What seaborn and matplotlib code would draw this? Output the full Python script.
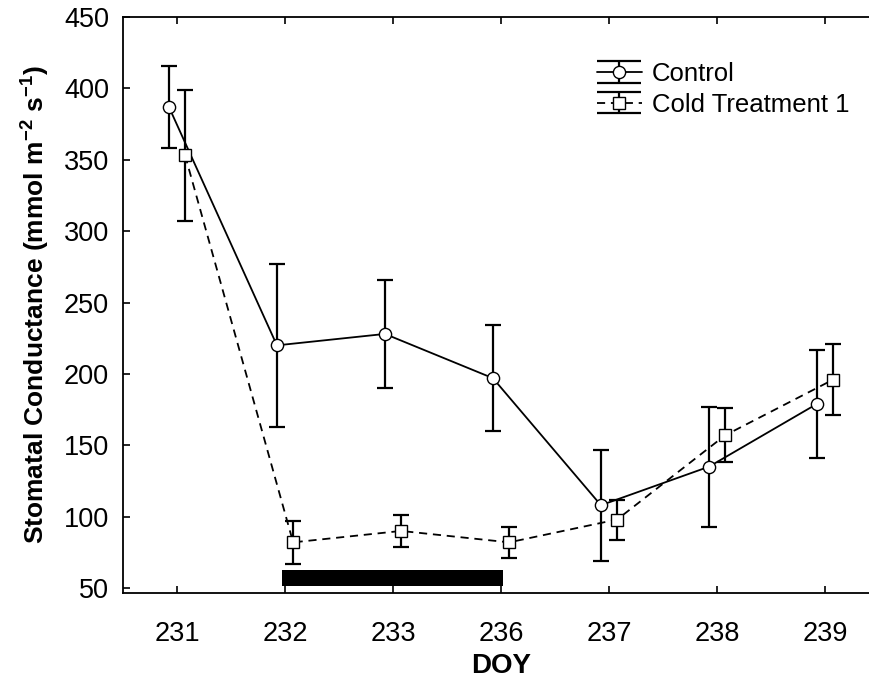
import numpy as np
import pandas as pd
import matplotlib
matplotlib.use("Agg")
import matplotlib.pyplot as plt
import seaborn as sns
from matplotlib.container import ErrorbarContainer
from matplotlib.legend_handler import HandlerErrorbar
from matplotlib.lines import Line2D

# ---- data -------------------------------------------------------------
doy_labels = ["231", "232", "233", "236", "237", "238", "239"]

control_mean = [387, 220, 228, 197, 108, 135, 179]
control_err = [29, 57, 38, 37, 39, 42, 38]

cold_mean = [353, 82, 90, 82, 98, 157, 196]
cold_err = [46, 15, 11, 11, 14, 19, 25]

# cold period marker (spans DOY 232 -> 236)
cold_period = ("232", "236")

# ---- style --------------------------------------------------------------
sns.set_theme(style="ticks")
plt.rcParams["font.family"] = ["Liberation Sans", "DejaVu Sans"]
plt.rcParams["mathtext.fontset"] = "custom"
plt.rcParams["mathtext.rm"] = "Liberation Sans"
plt.rcParams["mathtext.bf"] = "Liberation Sans:bold"
plt.rcParams["axes.linewidth"] = 1.3
plt.rcParams["text.color"] = "black"
plt.rcParams["axes.labelcolor"] = "black"

fig = plt.figure(figsize=(8.7, 6.86), dpi=100)
ax = fig.add_axes([0.1414, 0.1351, 0.8690, 0.8401])

pos = np.arange(len(doy_labels))
shift = 0.075

series = [
    ("Control", control_mean, control_err, -shift, "o", "-"),
    ("Cold Treatment 1", cold_mean, cold_err, shift, "s", "--"),
]

handles = []
for name, mean, err, dx, mk, ls in series:
    x = pos + dx
    eb = ax.errorbar(x, mean, yerr=err, fmt="none", ecolor="black",
                     elinewidth=1.6, capsize=5.5, capthick=1.6, zorder=2)
    n_before = len(ax.lines)
    sns.lineplot(x=x, y=mean, ax=ax, color="black", linestyle=ls,
                 linewidth=1.3, marker=mk, markersize=8.8,
                 markerfacecolor="white", markeredgecolor="black",
                 markeredgewidth=1.0, sort=False, estimator=None,
                 errorbar=None, zorder=3)
    line = ax.lines[n_before]
    if ls == "--":
        line.set_dashes((4.5, 3.2))
    handles.append(ErrorbarContainer((line, eb.lines[1], eb.lines[2]),
                                     has_xerr=False, has_yerr=True, label=name))

# black bar marking the cold treatment period
i0 = doy_labels.index(cold_period[0])
i1 = doy_labels.index(cold_period[1])
ax.fill_between([i0 - 0.03, i1 + 0.02], 51.6, 62.6, color="black",
                linewidth=0, zorder=1)

# ---- axes ---------------------------------------------------------------
ax.set_xlim(-0.5, len(doy_labels) - 0.5)
ax.set_ylim(46.3, 450)
ax.set_xticks(pos)
ax.set_xticklabels(doy_labels)
ax.set_yticks(np.arange(50, 451, 50))
ax.tick_params(axis="both", direction="in", length=5, width=1.2,
               top=True, right=True, labelsize=19.5, colors="black")
ax.tick_params(axis="x", pad=20)
ax.tick_params(axis="y", pad=10)
for sp in ax.spines.values():
    sp.set_color("black")

ax.set_xlabel("DOY", fontsize=20, fontweight="bold", labelpad=4,
              color="black")
ax.set_ylabel(r"Stomatal Conductance (mmol m$^{\mathbf{-2}}$ s$^{\mathbf{-1}}$)",
              fontsize=19, fontweight="bold", labelpad=9, color="black")


class WideCapHandler(HandlerErrorbar):
    def create_artists(self, legend, orig_handle, xdescent, ydescent,
                       width, height, fontsize, trans):
        artists = super().create_artists(legend, orig_handle, xdescent,
                                         ydescent, width, height, fontsize,
                                         trans)
        for a in artists:
            if isinstance(a, Line2D) and a.get_marker() == "_":
                a.set_markersize(width)
        return artists


ax.legend(handles=handles, labels=[h.get_label() for h in handles],
          handler_map={ErrorbarContainer: WideCapHandler(yerr_size=0.42)},
          loc="upper right", bbox_to_anchor=(0.976, 0.91),
          bbox_transform=fig.transFigure, frameon=False, fontsize=18.5,
          handlelength=1.75, handletextpad=0.39, labelspacing=0.27,
          borderpad=0, borderaxespad=0, labelcolor="black")

fig.savefig("out.png", dpi=100)
